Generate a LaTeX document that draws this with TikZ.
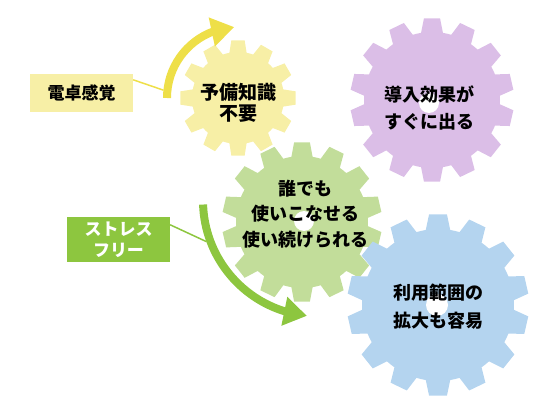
\documentclass[tikz,border=0pt]{standalone}
\usepackage{fontspec}
\newfontfamily\jpfont{Noto Sans CJK JP}
\usetikzlibrary{arrows.meta,bending}
\definecolor{gearyel}{HTML}{F7EFA6}
\definecolor{gearpur}{HTML}{DBBEE7}
\definecolor{geargrn}{HTML}{C2DD9A}
\definecolor{gearblu}{HTML}{B4D4EF}
\definecolor{arryel}{HTML}{EEDF48}
\definecolor{boxgrn}{HTML}{8DC63F}
\begin{document}
\begin{tikzpicture}[
    x=1pt, y=1pt,
    gtxt/.style = {align=center, font=\jpfont\bfseries\fontsize{18}{27.5}\selectfont},
    lbl/.style = {minimum width=103pt, inner sep=0pt, align=center,
                  font=\jpfont\bfseries\fontsize{17}{21}\selectfont},
    link/.style = {line width=1.5pt},
    turn/.style = {line width=8pt, -{Triangle[length=23pt,width=28pt]}},
  ]
  \useasboundingbox (0,0) rectangle (560,410);
  % gears
  \foreach \cx/\cy/\n/\ri/\ro/\col in {238/312/12/46/58/gearyel,
      432/310/14/68/82/gearpur, 302/188/14/66/80/geargrn, 438/105/14/76/91/gearblu} {
    \pgfmathsetmacro\pitch{360/\n}
    \fill[\col, shift={(\cx,\cy)}] ({90-0.36*\pitch}:\ri)
      \foreach \i in {1,...,\n} {
        -- ({90+(\i-1)*\pitch-0.22*\pitch}:\ro) -- ({90+(\i-1)*\pitch+0.22*\pitch}:\ro)
        -- ({90+(\i-1)*\pitch+0.36*\pitch}:\ri)
        arc[start angle={90+(\i-1)*\pitch+0.36*\pitch}, delta angle={0.28*\pitch}, radius=\ri]
      } -- cycle;
  }
  % holes
  \fill[white] (429,307) circle[radius=10];
  \fill[white] (304,189) circle[radius=10];
  \fill[white] (437,105) circle[radius=11];
  \node[gtxt, font=\jpfont\bfseries\fontsize{19}{21}\selectfont] (yel) at (238,307) {予備知識\\不要};
  \node[gtxt] (pur) at (429,302) {導入効果が\\すぐに出る};
  \node[gtxt, font=\jpfont\bfseries\fontsize{18}{25.5}\selectfont] (grn) at (305,196) {誰でも\\使いこなせる\\使い続けられる};
  \node[gtxt] (blu) at (438,103.5) {利用範囲の\\拡大も容易};
  % labels
  \node[lbl, fill=gearyel, minimum height=38pt] (calc) at (81.5,317) {電卓感覚};
  \node[lbl, fill=boxgrn, text=white, minimum height=45pt] (free) at (118.5,170.5) {ストレス\\フリー};
  % arrows
  \draw[turn, arryel] (167,312) arc[start angle=180, end angle=93, radius=71];
  \draw[turn, boxgrn] ([shift={(319,209.5)}]182:116) arc[start angle=182, end angle=264, radius=116];
  \coordinate (ya) at ([shift={(238,312)}]174:75);
  \coordinate (ga) at ([shift={(319,209.5)}]200:120);
  \draw[link, arryel] ([yshift=-6pt]calc.north east) -- (ya);
  \draw[link, boxgrn] ([yshift=-8pt]free.north east) -- (ga);
\end{tikzpicture}
\end{document}
